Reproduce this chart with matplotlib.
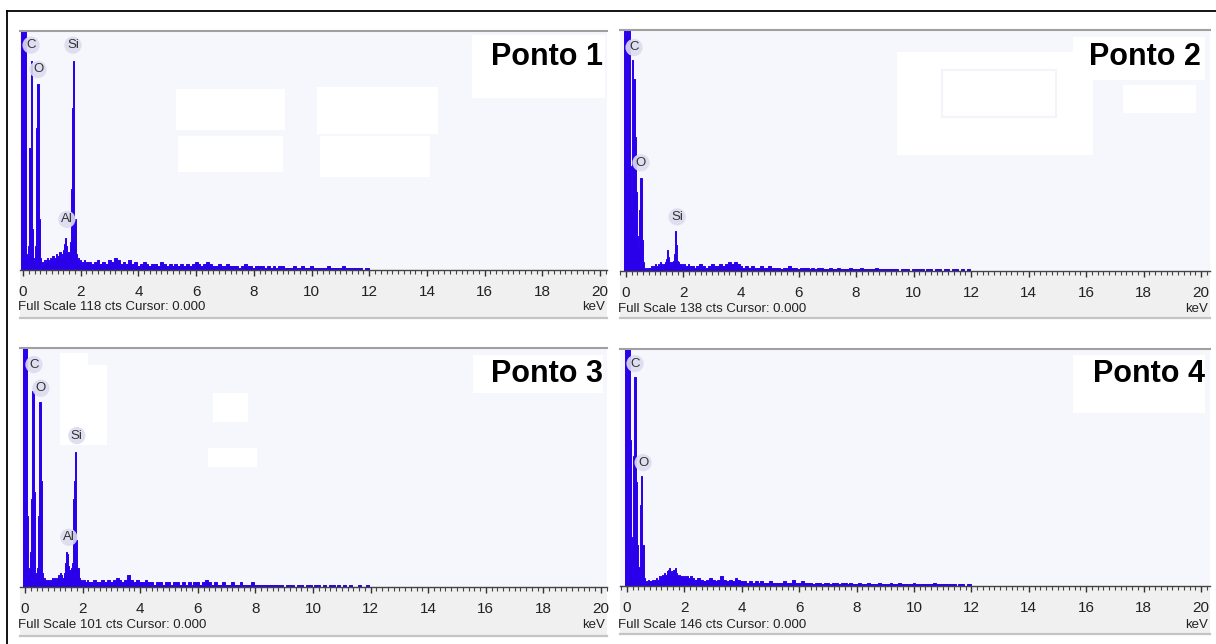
import numpy as np
import matplotlib
matplotlib.use("Agg")
import matplotlib.pyplot as plt
from matplotlib.patches import Rectangle
from matplotlib.ticker import MultipleLocator

W, H = 1216, 644
FONT = ['Liberation Sans', 'DejaVu Sans']
plt.rcParams['font.family'] = FONT

# ---------------- data ----------------
panel_names = ["Ponto 1", "Ponto 2", "Ponto 3", "Ponto 4"]
full_scale = [118, 138, 101, 146]

# channel energies (keV): fine region and coarse background region
energy_fine = np.round(np.arange(-0.08, 2.2001, 0.04), 2)      # 58 channels
energy_bg = np.round(np.arange(2.3, 12.0001, 0.1), 1)          # 98 channels

counts_fine_1 = [250, 250, 250, 250, 120, 8, 6, 12, 60, 103, 20, 5, 6, 12, 70, 92, 25, 6, 3, 4,
                 3, 5, 4, 6, 5, 4, 6, 5, 7, 6, 5, 8, 6, 7, 9, 6, 8, 10, 13, 16,
                 12, 9, 8, 14, 40, 80, 103, 25, 8, 5, 6, 4, 5, 3, 4, 5, 3, 4]
counts_bg_1 = [4, 3, 4, 5, 3, 4, 3, 5, 4, 6,
               5, 3, 4, 3, 5, 3, 4, 2, 3, 4,
               3, 2, 3, 3, 2, 4, 3, 2, 3, 2,
               3, 2, 3, 2, 3, 2, 3, 4, 3, 2,
               3, 4, 3, 2, 2, 3, 2, 2, 3, 2,
               2, 2, 1, 2, 3, 2, 2, 1, 2, 2,
               2, 1, 2, 1, 2, 1, 2, 2, 1, 1,
               1, 2, 1, 1, 2, 1, 1, 2, 1, 1,
               1, 1, 1, 2, 1, 1, 1, 1, 2, 1,
               1, 1, 1, 1, 1, 0, 1, 1]

counts_fine_2 = [20, 250, 250, 250, 250, 200, 60, 35, 121, 110, 77, 45, 20, 14, 35, 53, 18, 5, 2, 1,
                 2, 1, 2, 2, 3, 2, 3, 3, 4, 3, 4, 3, 5, 4, 3, 4, 5, 7, 12, 8,
                 5, 4, 5, 6, 10, 23, 15, 6, 5, 4, 3, 4, 3, 4, 3, 3, 4, 3]
counts_bg_2 = [3, 2, 3, 4, 3, 2, 3, 4, 3, 3,
               4, 3, 4, 5, 4, 5, 4, 3, 2, 3,
               2, 3, 2, 2, 3, 2, 2, 3, 2, 2,
               2, 1, 2, 2, 3, 2, 2, 1, 2, 2,
               2, 1, 2, 1, 2, 2, 1, 1, 2, 1,
               1, 2, 1, 1, 1, 2, 1, 1, 1, 2,
               1, 1, 1, 1, 2, 1, 1, 1, 1, 1,
               1, 1, 0, 1, 1, 1, 0, 1, 1, 1,
               1, 0, 1, 1, 0, 1, 1, 0, 1, 1,
               0, 1, 1, 0, 1, 0, 1, 0]

counts_fine_3 = [40, 250, 250, 250, 30, 6, 8, 15, 37, 83, 40, 6, 4, 8, 30, 78, 45, 6, 3, 4,
                 3, 2, 3, 2, 3, 3, 4, 3, 4, 3, 4, 5, 4, 6, 5, 4, 6, 10, 15, 14,
                 9, 7, 8, 10, 37, 45, 57, 20, 8, 4, 3, 2, 3, 2, 3, 2, 3, 2]
counts_bg_3 = [2, 3, 2, 2, 3, 2, 3, 2, 3, 4,
               3, 2, 3, 5, 3, 2, 3, 2, 2, 3,
               2, 2, 1, 2, 2, 1, 2, 2, 1, 2,
               2, 1, 2, 1, 2, 1, 2, 2, 1, 2,
               3, 2, 1, 2, 1, 1, 2, 1, 1, 2,
               1, 1, 2, 1, 1, 1, 2, 1, 1, 1,
               1, 1, 1, 1, 1, 1, 1, 0, 1, 1,
               1, 0, 1, 1, 0, 1, 1, 0, 1, 1,
               0, 1, 0, 1, 1, 0, 1, 0, 1, 0,
               1, 0, 0, 1, 0, 0, 1, 0]

counts_fine_4 = [30, 250, 250, 250, 250, 90, 20, 30, 80, 129, 64, 25, 12, 10, 50, 68, 25, 5, 2, 3,
                 2, 4, 3, 3, 4, 3, 4, 4, 5, 4, 6, 5, 6, 7, 6, 8, 7, 9, 10, 11,
                 8, 9, 7, 10, 11, 8, 7, 6, 7, 6, 5, 6, 5, 6, 5, 6, 5, 6]
counts_bg_4 = [5, 4, 5, 4, 3, 4, 5, 4, 3, 4,
               6, 4, 3, 4, 3, 5, 4, 3, 3, 2,
               3, 2, 3, 2, 3, 2, 2, 3, 2, 2,
               2, 2, 3, 2, 2, 4, 2, 2, 3, 2,
               2, 2, 1, 2, 2, 1, 2, 2, 1, 2,
               2, 1, 2, 2, 1, 2, 1, 1, 2, 1,
               1, 2, 1, 1, 1, 2, 1, 1, 1, 2,
               1, 1, 2, 1, 1, 1, 1, 2, 1, 1,
               1, 1, 1, 1, 2, 1, 1, 1, 1, 1,
               1, 1, 0, 1, 1, 0, 1, 1]

counts_fine = [counts_fine_1, counts_fine_2, counts_fine_3, counts_fine_4]
counts_bg = [counts_bg_1, counts_bg_2, counts_bg_3, counts_bg_4]

# peak labels: element, energy (keV), label height (cts)
peak_elements = [["C", "O", "Si", "Al"], ["C", "O", "Si"], ["C", "O", "Si", "Al"], ["C", "O"]]
peak_energy = [[0.28, 0.52, 1.73, 1.52], [0.28, 0.52, 1.78], [0.31, 0.55, 1.80, 1.52], [0.28, 0.56]]
peak_label_h = [[111, 99, 111, 25], [128, 62, 31], [94, 84, 64, 21], [137, 76]]

tick_values = [0, 2, 4, 6, 8, 10, 12, 14, 16, 18, 20]
tick_labels = [str(v) for v in tick_values]

# ---------------- layout (pixels) ----------------
# left, right, top, baseline, x(0keV), x(20keV), band bottom, text y
layout = [
    (20, 607, 31, 270, 23, 600, 318, 307),
    (620, 1210, 30, 271, 626, 1201, 318, 309),
    (20, 607, 348, 587, 25, 601, 636, 625),
    (620, 1210, 349, 586, 627, 1201, 634, 625),
]
white_boxes = [
    [(472, 35, 605, 98), (176, 89, 285, 130), (178, 136, 283, 172), (317, 87, 438, 134), (320, 136, 430, 177)],
    [(897, 52, 1093, 155), (1073, 37, 1205, 80), (1123, 85, 1196, 113)],
    [(473, 355, 603, 393), (60, 365, 107, 445), (60, 353, 88, 366), (213, 393, 248, 422), (208, 448, 257, 467)],
    [(1073, 355, 1205, 413)],
]
outlined_boxes = [[], [(942, 70, 1056, 117)], [], []]
ponto_pos = [(603, 57), (1201, 57), (603, 374), (1205, 374)]

BLUE = '#2a00ea'
LAV = '#f6f7fd'

fig = plt.figure(figsize=(W / 100, H / 100), dpi=100)
fig.patch.set_facecolor('white')


def fx(x):
    return x / W


def fy(y):
    return 1 - y / H


# outer frame (left and top)
fig.add_artist(plt.Line2D([fx(7), fx(7)], [fy(11), fy(644)], color='black', lw=1.3))
fig.add_artist(plt.Line2D([fx(7), fx(1216)], [fy(11), fy(11)], color='black', lw=1.3))

for i in range(4):
    left, right, top, base, x0, x20, bbot, ty = layout[i]
    ppk = (x20 - x0) / 20.0

    # grey band below baseline
    fig.add_artist(Rectangle((fx(left), fy(bbot)), fx(right) - fx(left), fy(base) - fy(bbot),
                             transform=fig.transFigure, facecolor='#f0f0f0', edgecolor='none', zorder=-2))
    fig.add_artist(plt.Line2D([fx(left), fx(right)], [fy(bbot), fy(bbot)], color='#c4c4c4', lw=1.6, zorder=-1))

    ax = fig.add_axes([fx(left), fy(base), fx(right) - fx(left), fy(top) - fy(base)])
    ax.set_facecolor(LAV)
    ax.set_xlim(-(x0 - left) / ppk, (right - x0) / ppk)
    ax.set_ylim(0, full_scale[i])

    for (a, b, c, d) in white_boxes[i]:
        ax.add_patch(Rectangle((fx(a), fy(d)), fx(c) - fx(a), fy(b) - fy(d), transform=fig.transFigure,
                               facecolor='white', edgecolor='none', zorder=1))
    for (a, b, c, d) in outlined_boxes[i]:
        ax.add_patch(Rectangle((fx(a), fy(d)), fx(c) - fx(a), fy(b) - fy(d), transform=fig.transFigure,
                               facecolor='white', edgecolor='#f2f3fb', lw=1.5, zorder=1.5))

    e = np.concatenate([energy_fine, energy_bg])
    c = np.concatenate([counts_fine[i], counts_bg[i]])
    ax.fill_between(e, 0, c, step='mid', facecolor=BLUE, edgecolor=BLUE, lw=0.7, zorder=2)

    for el, en, hh in zip(peak_elements[i], peak_energy[i], peak_label_h[i]):
        ax.text(en, hh, el, ha='center', va='center', fontsize=9.5, color='#333333', zorder=4,
                bbox=dict(boxstyle='circle,pad=0.2', fc='#dcdcef', ec='none', alpha=0.9))

    # spines / ticks
    for s in ['left', 'right']:
        ax.spines[s].set_visible(False)
    ax.spines['top'].set_color('#a0a0a0')
    ax.spines['top'].set_linewidth(1.5)
    ax.spines['bottom'].set_color('#444444')
    ax.spines['bottom'].set_linewidth(1.0)
    ax.set_yticks([])
    ax.set_xticks(tick_values)
    ax.set_xticklabels(tick_labels)
    ax.xaxis.set_minor_locator(MultipleLocator(0.2))
    ax.tick_params(axis='x', which='major', direction='out', length=4.5, width=1.0, color='#333333',
                   pad=6, labelsize=11, labelcolor='#222222')
    ax.tick_params(axis='x', which='minor', direction='out', length=3.2, width=0.8, color='#444444')

    fig.text(fx(left - 2), fy(ty), f"Full Scale {full_scale[i]} cts Cursor: 0.000", ha='left', va='center',
             fontsize=9.5, color='#222222')
    fig.text(fx(right - 2), fy(ty), "keV", ha='right', va='center', fontsize=9.5, color='#222222')

    px, py = ponto_pos[i]
    fig.text(fx(px), fy(py), panel_names[i], ha='right', va='center', fontsize=22, fontweight='bold',
             color='black', zorder=10)

fig.savefig('out.png', dpi=100)
